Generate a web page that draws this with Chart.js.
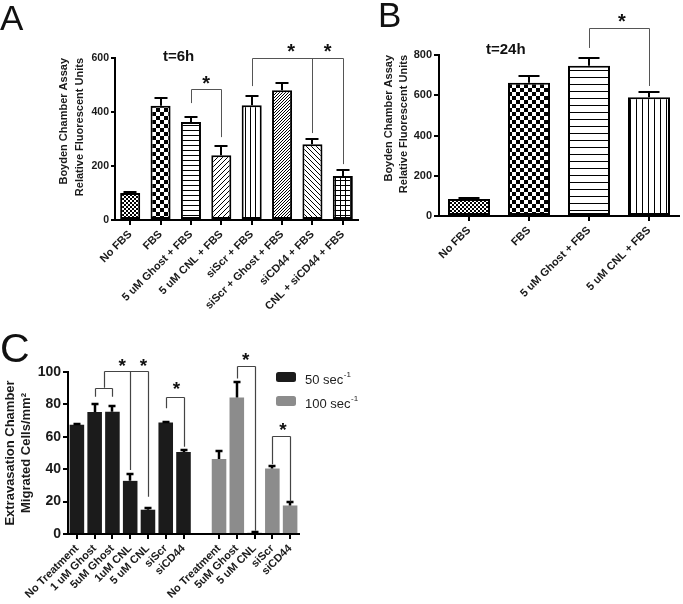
<!DOCTYPE html>
<html><head><meta charset="utf-8">
<script src="https://cdn.jsdelivr.net/npm/chart.js@4"></script>
<style>
html,body{margin:0;padding:0;background:#fff;}
body{width:683px;height:604px;position:relative;overflow:hidden;}
canvas{position:absolute;}
</style></head><body>
<canvas id="cA" width="365" height="330" style="left:0;top:0"></canvas>
<canvas id="cB" width="323" height="320" style="left:360px;top:0"></canvas>
<canvas id="cC" width="370" height="304" style="left:0;top:300px"></canvas>
<script>
// ---------- data ----------
const labelsA = ['No FBS','FBS','5 uM Ghost + FBS','5 uM CNL + FBS','siScr + FBS','siScr + Ghost + FBS','siCD44 + FBS','CNL + siCD44 + FBS'];
const valuesA = [100, 423, 363, 240, 425, 481, 281, 163];
const errorsA = [3, 30, 18, 33, 33, 26, 19, 21];
const patternsA = ['dots','checker','hlines','diag','vlines','fdiag','bdiag','grid'];
const ticksA = [0, 200, 400, 600];

const labelsB = ['No FBS','FBS','5 uM Ghost + FBS','5 uM CNL + FBS'];
const valuesB = [84, 662, 747, 590];
const errorsB = [7, 33, 36, 27];
const patternsB = ['dots','checker','hlinesWide','vlinesWide'];
const ticksB = [0, 200, 400, 600, 800];

const labelsC50 = ['No Treatment','1 uM Ghost','5uM Ghost','1uM CNL','5 uM CNL','siScr','siCD44'];
const values50 = [67.5, 75.3, 75.5, 32.8, 15, 68.8, 50.6];
const errors50 = [0.5, 4.8, 3.8, 4, 1.2, 0.5, 1.5];
const labelsC100 = ['No Treatment','5uM Ghost','5 uM CNL','siScr','siCD44'];
const values100 = [46.3, 84.3, 0.8, 40.4, 17.6];
const errors100 = [4.7, 9.3, 0.4, 1.4, 2.1];
const seriesC = ['50 sec', '100 sec'];
const ticksC = [0, 20, 40, 60, 80, 100];

// significance brackets (category index, value units)
const bracketsA = [
  {legs:[[2,433],[3,307]], top:485, stars:[2.5], starY:522},
  {legs:[[4,496],[6,322],[7,207]], top:600, stars:[5.3,6.5], starY:641}
];
const bracketsB = [
  {legs:[[2,835],[3,646]], top:934, stars:[2.55], starY:988}
];
const bracketsC = [
  {legs:[[1,84.7],[2,84.7]], top:90.3, stars:[], starY:0},
  {legs:[[1.5,90.3],[3,39.5],[4,23]], top:100.6, stars:[2.55,3.74], starY:106.4},
  {legs:[[5,77.6],[6,53.9]], top:84.8, stars:[5.6], starY:92},
  {legs:[[9,96],[10,2]], top:104, stars:[9.5], starY:110},
  {legs:[[11,43],[12,20]], top:60.4, stars:[11.6], starY:66.5}
];

// ---------- helpers ----------
const FONT = "'Liberation Sans', Arial, sans-serif";
Chart.defaults.font.family = FONT;
Chart.defaults.color = '#1a1a1a';

function pat(type){
  const sizes = {dots:4, checker:8, hlines:5, hlinesWide:7, vlines:5, vlinesWide:6, diag:5, bdiag:5, fdiag:3, grid:5};
  const s = sizes[type];
  const c = document.createElement('canvas'); c.width = s; c.height = s;
  const g = c.getContext('2d');
  g.fillStyle = '#fff'; g.fillRect(0,0,s,s);
  g.fillStyle = '#000';
  switch(type){
    case 'dots': g.fillRect(0,0,2,2); g.fillRect(2,2,2,2); break;
    case 'checker': g.fillRect(0,0,4,4); g.fillRect(4,4,4,4); break;
    case 'hlines': case 'hlinesWide': g.fillRect(0,0,s,1); break;
    case 'vlines': case 'vlinesWide': g.fillRect(0,0,1,s); break;
    case 'diag': case 'fdiag': for(let i=0;i<s;i++) g.fillRect(i,s-1-i,1,1); break;
    case 'bdiag': for(let i=0;i<s;i++) g.fillRect(i,i,1,1); break;
    case 'grid': g.fillRect(0,0,s,1); g.fillRect(0,0,1,s); break;
  }
  return g.createPattern(c,'repeat');
}

const overlay = {
  id:'overlay',
  afterDraw(chart, args, o){
    const ctx = chart.ctx, x = chart.scales.x, y = chart.scales.y;
    ctx.save();
    // error bars (upper whisker)
    chart.data.datasets.forEach((ds, di) => {
      const meta = chart.getDatasetMeta(di);
      meta.data.forEach((bar, i) => {
        const v = ds.data[i], e = ds.errors ? ds.errors[i] : null;
        if (v == null || e == null) return;
        const px = Math.round(bar.x);
        const y0 = y.getPixelForValue(v), y1 = Math.round(y.getPixelForValue(v + e));
        ctx.strokeStyle = '#000'; ctx.lineWidth = o.errWidth;
        ctx.beginPath();
        ctx.moveTo(px, y0); ctx.lineTo(px, y1);
        ctx.moveTo(px - o.cap/2, y1); ctx.lineTo(px + o.cap/2, y1);
        ctx.stroke();
      });
    });
    // brackets
    (o.brackets || []).forEach(b => {
      const ty = Math.round(y.getPixelForValue(b.top)) + 0.5;
      const xs = b.legs.map(l => Math.round(x.getPixelForValue(l[0])) + 0.5);
      ctx.strokeStyle = o.bracketColor; ctx.lineWidth = o.bracketWidth;
      ctx.beginPath();
      ctx.moveTo(Math.min(...xs), ty); ctx.lineTo(Math.max(...xs), ty);
      b.legs.forEach((l, k) => { ctx.moveTo(xs[k], ty); ctx.lineTo(xs[k], y.getPixelForValue(l[1])); });
      ctx.stroke();
      ctx.fillStyle = '#111'; ctx.font = o.starFont; ctx.textAlign = 'center'; ctx.textBaseline = 'alphabetic';
      b.stars.forEach(sx => ctx.fillText('*', x.getPixelForValue(sx), y.getPixelForValue(b.starY) + o.starDrop));
    });
    // free texts
    (o.texts || []).forEach(t => {
      ctx.font = t.font; ctx.fillStyle = '#111'; ctx.textAlign = 'left'; ctx.textBaseline = 'alphabetic';
      ctx.fillText(t.text, t.x, t.y);
    });
    // legend
    if (o.legend) {
      const L = o.legend;
      chart.data.datasets.forEach((ds, k) => {
        const by = L.y + k * L.dy;
        ctx.fillStyle = ds.backgroundColor;
        ctx.beginPath(); ctx.roundRect(L.x, by, L.w, L.h, 2.5); ctx.fill();
        ctx.fillStyle = '#222'; ctx.font = L.font; ctx.textAlign = 'left'; ctx.textBaseline = 'alphabetic';
        ctx.fillText(ds.label, L.tx, by + L.base);
        const w = ctx.measureText(ds.label).width;
        ctx.font = L.supFont;
        ctx.fillText(L.sup, L.tx + w + 0.5, by + L.supBase);
      });
    }
    ctx.restore();
  }
};

function yAxis(p){
  return {
    min: 0, max: p.ticks[p.ticks.length-1],
    afterBuildTicks(s){ s.ticks = p.ticks.map(v => ({value: v})); },
    ticks: {font:{size:p.tickFont, weight:'bold'}, color:'#1a1a1a', padding:p.tickPad},
    grid: {drawOnChartArea:false, drawTicks:true, tickLength:p.tickLen, color:'#000', lineWidth:2},
    border: {display:true, color:'#000', width:2},
    title: {display:true, text:p.title, color:'#1a1a1a', align:p.align,
            font:{size:p.titleFont, weight:'bold', lineHeight:p.titleLH}, padding:{top:p.titlePad, bottom:0}},
    afterFit(s){ s.width = p.width; }
  };
}
function xAxis(p){
  return {
    offset: true,
    ticks: {autoSkip:false, maxRotation:45, minRotation:45, font:{size:p.font, weight:'bold'}, color:'#1a1a1a', padding:p.pad},
    grid: {offset:false, drawOnChartArea:false, drawTicks:true, tickLength:5, color:'#000', lineWidth:2,
           tickColor: p.tickColor || '#000'},
    border: {display:true, color:'#000', width:2},
    afterFit(s){ s.height = p.height; }
  };
}
const common = {responsive:false, animation:false, events:[]};

// ---------- Panel A ----------
new Chart(document.getElementById('cA'), {
  type:'bar',
  data:{labels:labelsA, datasets:[{data:valuesA, errors:errorsA,
    backgroundColor:patternsA.map(pat), borderColor:'#000', borderWidth:2, borderSkipped:false,
    barPercentage:0.66, categoryPercentage:1}]},
  options:{...common,
    layout:{padding:{top:58, right:7, left:0, bottom:0}},
    plugins:{legend:{display:false}, tooltip:{enabled:false},
      overlay:{errWidth:2, cap:13, brackets:bracketsA, bracketColor:'#555', bracketWidth:1,
        starFont:"bold 20px "+FONT, starDrop:11,
        texts:[{text:'A', x:0, y:30, font:"35px "+FONT},{text:'t=6h', x:163, y:61, font:"bold 15px "+FONT}]}},
    scales:{
      x: xAxis({height:110, font:11, pad:3}),
      y: yAxis({ticks:ticksA, width:115, tickFont:10.5, tickPad:2, tickLen:4,
        title:['Boyden Chamber Assay','Relative Fluorescent Units'], titleFont:11, titleLH:1.45, titlePad:56, align:'end'})
    }},
  plugins:[overlay]
});

// ---------- Panel B ----------
new Chart(document.getElementById('cB'), {
  type:'bar',
  data:{labels:labelsB, datasets:[{data:valuesB, errors:errorsB,
    backgroundColor:patternsB.map(pat), borderColor:'#000', borderWidth:2, borderSkipped:false,
    barPercentage:0.7, categoryPercentage:1}]},
  options:{...common,
    layout:{padding:{top:55, right:4, left:0, bottom:0}},
    plugins:{legend:{display:false}, tooltip:{enabled:false},
      overlay:{errWidth:2, cap:21, brackets:bracketsB, bracketColor:'#555', bracketWidth:1,
        starFont:"bold 20px "+FONT, starDrop:11,
        texts:[{text:'B', x:18, y:27, font:"35px "+FONT},{text:'t=24h', x:126, y:54, font:"bold 15px "+FONT}]}},
    scales:{
      x: xAxis({height:104, font:11, pad:3}),
      y: yAxis({ticks:ticksB, width:79, tickFont:11, tickPad:2, tickLen:5,
        title:['Boyden Chamber Assay','Relative Fluorescent Units'], titleFont:11, titleLH:1.4, titlePad:21, align:'end'})
    }},
  plugins:[overlay]
});

// ---------- Panel C ----------
const labelsC = [...labelsC50, '', ...labelsC100];
const gap = n => Array(n).fill(null);
new Chart(document.getElementById('cC'), {
  type:'bar',
  data:{labels:labelsC, datasets:[
    {label:seriesC[0], data:[...values50, ...gap(6)], errors:[...errors50, ...gap(6)],
     backgroundColor:'#1b1b1b', borderWidth:0, barPercentage:0.82, categoryPercentage:1, grouped:false},
    {label:seriesC[1], data:[...gap(8), ...values100], errors:[...gap(8), ...errors100],
     backgroundColor:'#8c8c8c', borderWidth:0, barPercentage:0.82, categoryPercentage:1, grouped:false}
  ]},
  options:{...common,
    layout:{padding:{top:72, right:71, left:0, bottom:0}},
    plugins:{legend:{display:false}, tooltip:{enabled:false},
      overlay:{errWidth:2.5, cap:7, brackets:bracketsC, bracketColor:'#444', bracketWidth:1.2,
        starFont:"bold 19px "+FONT, starDrop:10,
        texts:[{text:'C', x:0, y:62, font:"41px "+FONT}],
        legend:{x:276, y:72, dy:24, w:20, h:10, tx:305, base:12, supBase:5, sup:'-1',
          font:"13px "+FONT, supFont:"8px "+FONT}}},
    scales:{
      x: xAxis({height:70, font:11, pad:3, tickColor:(c) => labelsC[c.index] === '' ? 'rgba(0,0,0,0)' : '#000'}),
      y: yAxis({ticks:ticksC, width:68, tickFont:14, tickPad:2, tickLen:5,
        title:['Extravasation Chamber','Migrated Cells/mm²'], titleFont:13, titleLH:1.3, titlePad:1.5, align:'center'})
    }},
  plugins:[overlay]
});
</script>
</body></html>
